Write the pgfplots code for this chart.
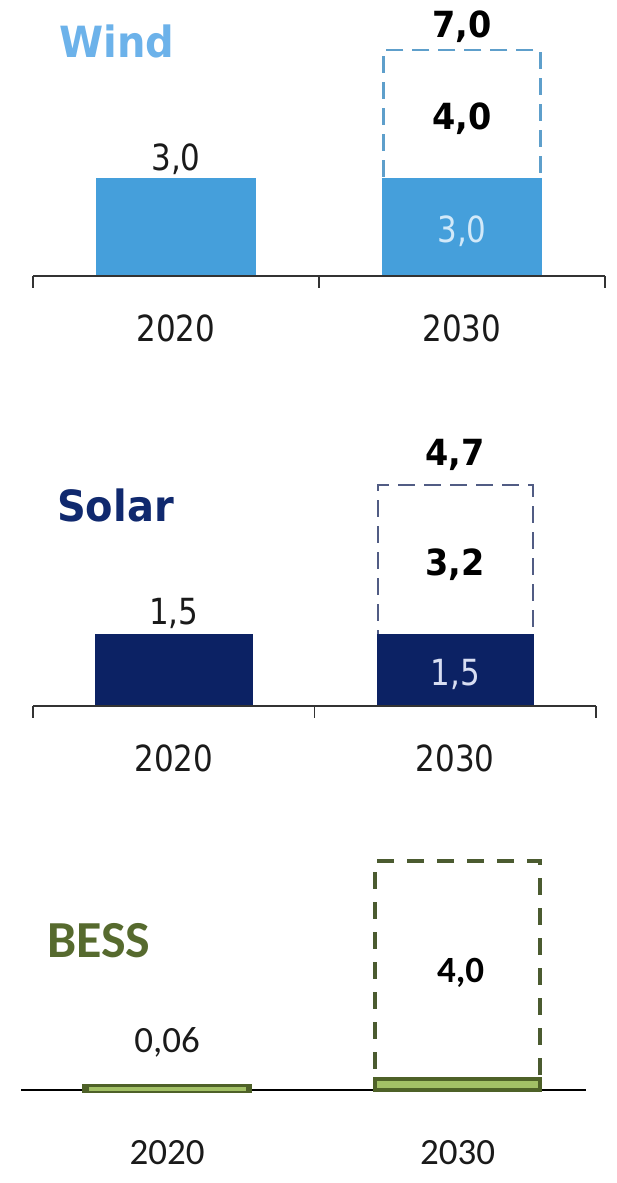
\documentclass[border=0pt]{standalone}
\usepackage{fontspec}
\usepackage{pgfplots}
\pgfplotsset{compat=1.18}
\setmainfont{DejaVu Sans}
\newfontfamily\tahr{DejaVu Sans}[FakeStretch=0.86]
\newfontfamily\tahb{DejaVu Sans}[FakeStretch=0.93]
\newfontfamily\calib{Carlito}

\newcommand\numreg{\tahr\fontsize{36pt}{40pt}\selectfont}
\newcommand\numbold{\tahb\bfseries\fontsize{36pt}{40pt}\selectfont}
\newcommand\calreg{\calib\fontsize{37pt}{40pt}\selectfont}
\newcommand\calbold{\calib\bfseries\fontsize{37pt}{40pt}\selectfont}

\definecolor{txt}{HTML}{1A1A1A}
\definecolor{axgray}{HTML}{333333}
\definecolor{windtitle}{HTML}{6CB2EA}
\definecolor{windbar}{HTML}{459FDB}
\definecolor{windin}{HTML}{D2E9F9}
\definecolor{winddash}{HTML}{5E9FCB}
\definecolor{solartitle}{HTML}{10296E}
\definecolor{solarbar}{HTML}{0C2264}
\definecolor{solarin}{HTML}{D8DEF2}
\definecolor{solardash}{HTML}{515C84}
\definecolor{besstitle}{HTML}{566A2E}
\definecolor{bessborder}{HTML}{4E6128}
\definecolor{bessfill}{HTML}{A2C066}
\definecolor{bessdash}{HTML}{4B5B30}

\begin{document}
\begin{tikzpicture}
\useasboundingbox (0pt,0pt) rectangle (616pt,1183pt);
\pgfplotsset{
  panel/.style={
    scale only axis, clip=false, ybar, ymin=0,
    xmin=-0.5, xmax=1.5,
    axis x line*=bottom, axis y line=none,
    ytick=\empty, xtick={0,1},
    major tick length=0pt,
    x axis line style={line width=1.6pt, color=axgray},
    tick style={line width=1.6pt, color=axgray},
    anchor=south west,
    xticklabels={2020,2030},
  },
  boxticks/.style={
    axis on top,
    extra x ticks={-0.5,0.5,1.5}, extra x tick labels={},
    extra x tick style={major tick length=12pt, tick align=outside},
  },
}
\tikzset{
  lab/.style={font=\numreg, text=txt, anchor=base, inner sep=0pt},
  blab/.style={font=\numbold, text=black, anchor=base, inner sep=0pt},
}

% Wind
\begin{axis}[panel, boxticks, at={(33pt,907pt)}, width=572pt, height=226pt,
  ymax=7, bar width=157pt,
  xticklabel style={font=\numreg, text=txt, anchor=base, inner sep=0pt, yshift=-66pt}]
\addplot[fill=white, draw=winddash, line width=2.5pt, dash pattern=on 17pt off 9pt, bar shift=0pt]
  coordinates {(1,7.0)};
\addplot[fill=windbar, draw=windbar, line width=2.5pt, bar shift=0pt] coordinates {(0,3.0) (1,3.0)};
\node[lab, yshift=9pt] at (axis cs:0,3) {3,0};
\node[blab, yshift=12pt] at (axis cs:1,7) {7,0};
\node[blab, yshift=-15pt] at (axis cs:1,5) {4,0};
\node[lab, text=windin, yshift=-15pt] at (axis cs:1,1.5) {3,0};
\end{axis}

% Solar
\begin{axis}[panel, boxticks, at={(33pt,477pt)}, width=563pt, height=221pt,
  ymax=4.7, bar width=155pt,
  xticklabel style={font=\numreg, text=txt, anchor=base, inner sep=0pt, yshift=-66pt}]
\addplot[fill=white, draw=solardash, line width=2.5pt, dash pattern=on 17pt off 9pt, bar shift=0pt]
  coordinates {(1,4.7)};
\addplot[fill=solarbar, draw=solarbar, line width=2.5pt, bar shift=0pt] coordinates {(0,1.5) (1,1.5)};
\node[lab, yshift=10.5pt] at (axis cs:0,1.5) {1,5};
\node[blab, yshift=19pt] at (axis cs:1,4.7) {4,7};
\node[blab, yshift=-15pt] at (axis cs:1,3.1) {3,2};
\node[lab, text=solarin, yshift=-15pt] at (axis cs:1,0.75) {1,5};
\end{axis}

% BESS
\begin{axis}[panel, at={(21pt,93pt)}, width=565pt, height=229pt,
  xmin=-0.503, xmax=1.442, ymax=4.2, bar width=165pt,
  x axis line style={line width=1.8pt, color=black},
  xticklabel style={font=\calreg, text=txt, anchor=base, inner sep=0pt, yshift=-74pt}]
\addplot[fill=white, draw=bessdash, line width=4.5pt, dash pattern=on 17pt off 13pt, bar shift=0pt]
  coordinates {(1,4.2)};
\addplot[fill=bessfill, draw=bessborder, line width=4.5pt, bar shift=0pt]
  coordinates {(1,0.2)};
\addplot[fill=bessfill, draw=bessborder, line width=6pt, bar shift=0pt, bar width=164pt]
  coordinates {(0,0.06)};
\addplot[fill=bessfill, draw=bessfill, line width=0.4pt, bar shift=0pt, bar width=156pt]
  coordinates {(0,0.06)};
\node[font=\calreg, text=txt, anchor=base, inner sep=0pt, yshift=34pt] at (axis cs:0,0.06) {0,06};
\node[font=\calbold, text=black, anchor=base, inner sep=0pt, yshift=-12pt, xshift=3pt] at (axis cs:1,2.2) {4,0};
\end{axis}

% panel titles
\node[anchor=base west, inner sep=0pt, text=windtitle, font=\tahb\bfseries\fontsize{43pt}{48pt}\selectfont]
  at (59pt,1125pt) {Wind};
\node[anchor=base west, inner sep=0pt, text=solartitle, font=\tahb\bfseries\fontsize{43pt}{48pt}\selectfont]
  at (57pt,661pt) {Solar};
\node[anchor=base west, inner sep=0pt, text=besstitle, font=\calib\bfseries\fontsize{52pt}{58pt}\selectfont]
  at (47pt,225pt) {BESS};
\end{tikzpicture}
\end{document}
